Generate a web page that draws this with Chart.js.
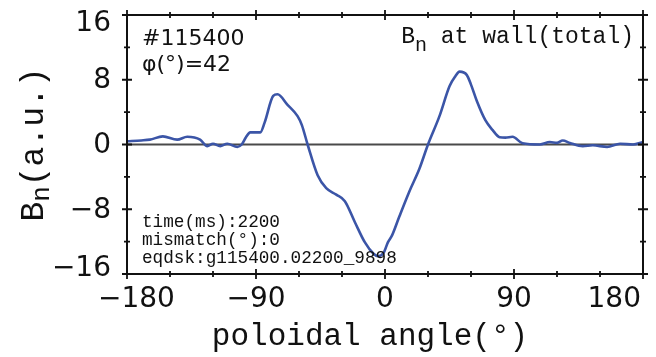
<!DOCTYPE html>
<html>
<head>
<meta charset="utf-8">
<script src="https://cdn.jsdelivr.net/npm/chart.js@4/dist/chart.umd.min.js"></script>
<style>
  html, body { margin: 0; padding: 0; background: #fff; }
  #wrap { width: 656px; height: 357px; }
</style>
</head>
<body>
<div id="wrap"><canvas id="c" width="656" height="357"></canvas></div>
<script>
// Poloidal angle (deg) and normal field at the wall (a.u.)
const angles = [-180,-170,-164,-155,-145,-138,-129,-124,-120,-115,-110,-103,-100,-97,-94,-87,-84,-78,-75,-68,-61,-58,-54,-47,-41,-34,-28,-21,-14,-8,-5,-1,2,5,10,17,24,30,38,45,49,52,57,60,64,70,75,80,84,89,96,108,115,120,124,129,138,145,155,164,173,180];
const bn     = [0.4,0.5,0.6,1.0,0.6,0.95,0.6,-0.2,0.1,-0.2,0.1,-0.3,0.0,0.9,1.5,1.5,2.7,6.0,6.2,4.9,3.5,2.4,0.0,-3.8,-5.4,-6.2,-7.0,-9.6,-12.1,-13.5,-13.8,-13.4,-12.1,-11.2,-8.9,-5.8,-3.0,0.0,3.5,7.2,8.4,9.0,8.6,7.4,5.4,3.0,1.8,0.9,0.85,0.95,0.15,0.0,0.3,0.2,0.5,0.2,-0.2,-0.1,-0.3,0.1,0.0,0.3];

// Axis ticks
const xMajorTicks = [-180, -90, 0, 90, 180];
const xMinorTicks = [-150, -120, -60, -30, 30, 60, 120, 150];
const yMajorTicks = [-16, -8, 0, 8, 16];
const yMinorTicks = [-12, -4, 4, 12];

// Text annotations
const shotLabel = '#115400';
const phiLabel = 'φ(°)=42';
const infoLines = ['time(ms):2200', 'mismatch(°):0', 'eqdsk:g115400.02200_9898'];
const xTitle = 'poloidal angle(°)';

const fmt = v => (v < 0 ? '\u2212' + Math.abs(v) : String(v));

// Draws "B" + subscript "n" + rest, starting at x (baseline y)
function drawBn(ctx, x, y, size, subSize, subShift, rest) {
  ctx.textAlign = 'left';
  ctx.textBaseline = 'alphabetic';
  ctx.font = size + 'px "Liberation Mono", "Courier New", monospace';
  ctx.fillText('B', x, y);
  x += ctx.measureText('B').width;
  ctx.font = subSize + 'px "Liberation Mono", "Courier New", monospace';
  ctx.fillText('n', x, y + subShift);
  x += ctx.measureText('n').width;
  ctx.font = size + 'px "Liberation Mono", "Courier New", monospace';
  ctx.fillText(rest, x, y);
}
function widthBn(ctx, size, subSize, rest) {
  ctx.font = size + 'px "Liberation Mono", "Courier New", monospace';
  let w = ctx.measureText('B').width + ctx.measureText(rest).width;
  ctx.font = subSize + 'px "Liberation Mono", "Courier New", monospace';
  return w + ctx.measureText('n').width;
}

const framePlugin = {
  id: 'framePlugin',
  afterDraw(chart) {
    const { ctx, chartArea: a, scales: { x, y } } = chart;
    ctx.save();
    ctx.strokeStyle = '#111';
    ctx.fillStyle = '#111';

    // tick marks crossing all four sides
    ctx.lineWidth = 1.8;
    const xt = xMajorTicks.map(v => [v, 5]).concat(xMinorTicks.map(v => [v, 3]));
    xt.forEach(([v, h]) => {
      const px = x.getPixelForValue(v);
      ctx.beginPath();
      ctx.moveTo(px, a.bottom - h); ctx.lineTo(px, a.bottom + h);
      ctx.moveTo(px, a.top - h); ctx.lineTo(px, a.top + h);
      ctx.stroke();
    });
    const yt = yMajorTicks.map(v => [v, 5]).concat(yMinorTicks.map(v => [v, 3]));
    yt.forEach(([v, h]) => {
      const py = y.getPixelForValue(v);
      ctx.beginPath();
      ctx.moveTo(a.left - h, py); ctx.lineTo(a.left + h, py);
      ctx.moveTo(a.right - h, py); ctx.lineTo(a.right + h, py);
      ctx.stroke();
    });

    // frame
    ctx.lineWidth = 2;
    ctx.strokeRect(a.left, a.top, a.right - a.left, a.bottom - a.top);

    // tick labels
    ctx.font = '28px "DejaVu Sans", sans-serif';
    ctx.textBaseline = 'middle';
    ctx.textAlign = 'left';
    xMajorTicks.forEach(v => {
      const s = fmt(v);
      const w = ctx.measureText(s).width;
      let left = x.getPixelForValue(v) - w / 2;
      left = Math.max(98, Math.min(641 - w, left));
      ctx.fillText(s, left, a.bottom + 26);
    });
    ctx.textAlign = 'right';
    yMajorTicks.forEach(v => {
      let py = y.getPixelForValue(v);
      py = Math.max(23, Math.min(268, py));
      ctx.fillText(fmt(v), 111, py + 1);
    });

    // axis titles
    ctx.textBaseline = 'alphabetic';
    ctx.textAlign = 'center';
    ctx.font = '31px "Liberation Mono", "Courier New", monospace';
    ctx.fillText(xTitle, 370, 345);

    ctx.save();
    ctx.translate(43, (a.top + a.bottom) / 2);
    ctx.rotate(-Math.PI / 2);
    const wy = widthBn(ctx, 33, 26, '(a.u.)');
    drawBn(ctx, -wy / 2, 0, 33, 26, 6, '(a.u.)');
    ctx.restore();

    // annotations inside the plot
    ctx.textAlign = 'left';
    ctx.font = '22px "DejaVu Sans", sans-serif';
    ctx.fillText(shotLabel, 142, 45);
    ctx.fillText(phiLabel, 142, 71);

    const wt = widthBn(ctx, 23, 20, ' at wall(total)');
    drawBn(ctx, 634 - wt, 43, 23, 20, 8, ' at wall(total)');

    ctx.font = '17.7px "Liberation Mono", "Courier New", monospace';
    ctx.textAlign = 'left';
    infoLines.forEach((t, i) => ctx.fillText(t, 142, 227 + i * 18));

    ctx.restore();
  }
};

new Chart(document.getElementById('c'), {
  type: 'line',
  data: {
    datasets: [
      {
        data: angles.map((a, i) => ({ x: a, y: bn[i] })),
        borderColor: '#3b55a7',
        borderWidth: 2.6,
        pointRadius: 0,
        cubicInterpolationMode: 'monotone',
        fill: false,
        order: 1
      },
      {
        data: [{ x: xMajorTicks[0], y: 0 }, { x: xMajorTicks[xMajorTicks.length - 1], y: 0 }],
        borderColor: '#4a4a4a',
        borderWidth: 1.8,
        pointRadius: 0,
        fill: false,
        order: 2
      }
    ]
  },
  options: {
    responsive: false,
    animation: false,
    devicePixelRatio: 1,
    layout: { padding: { left: 127, right: 13, top: 15, bottom: 83 } },
    plugins: { legend: { display: false }, tooltip: { enabled: false } },
    scales: {
      x: { type: 'linear', min: -180, max: 180, display: false },
      y: { type: 'linear', min: -16, max: 16, display: false }
    }
  },
  plugins: [framePlugin]
});
</script>
</body>
</html>
